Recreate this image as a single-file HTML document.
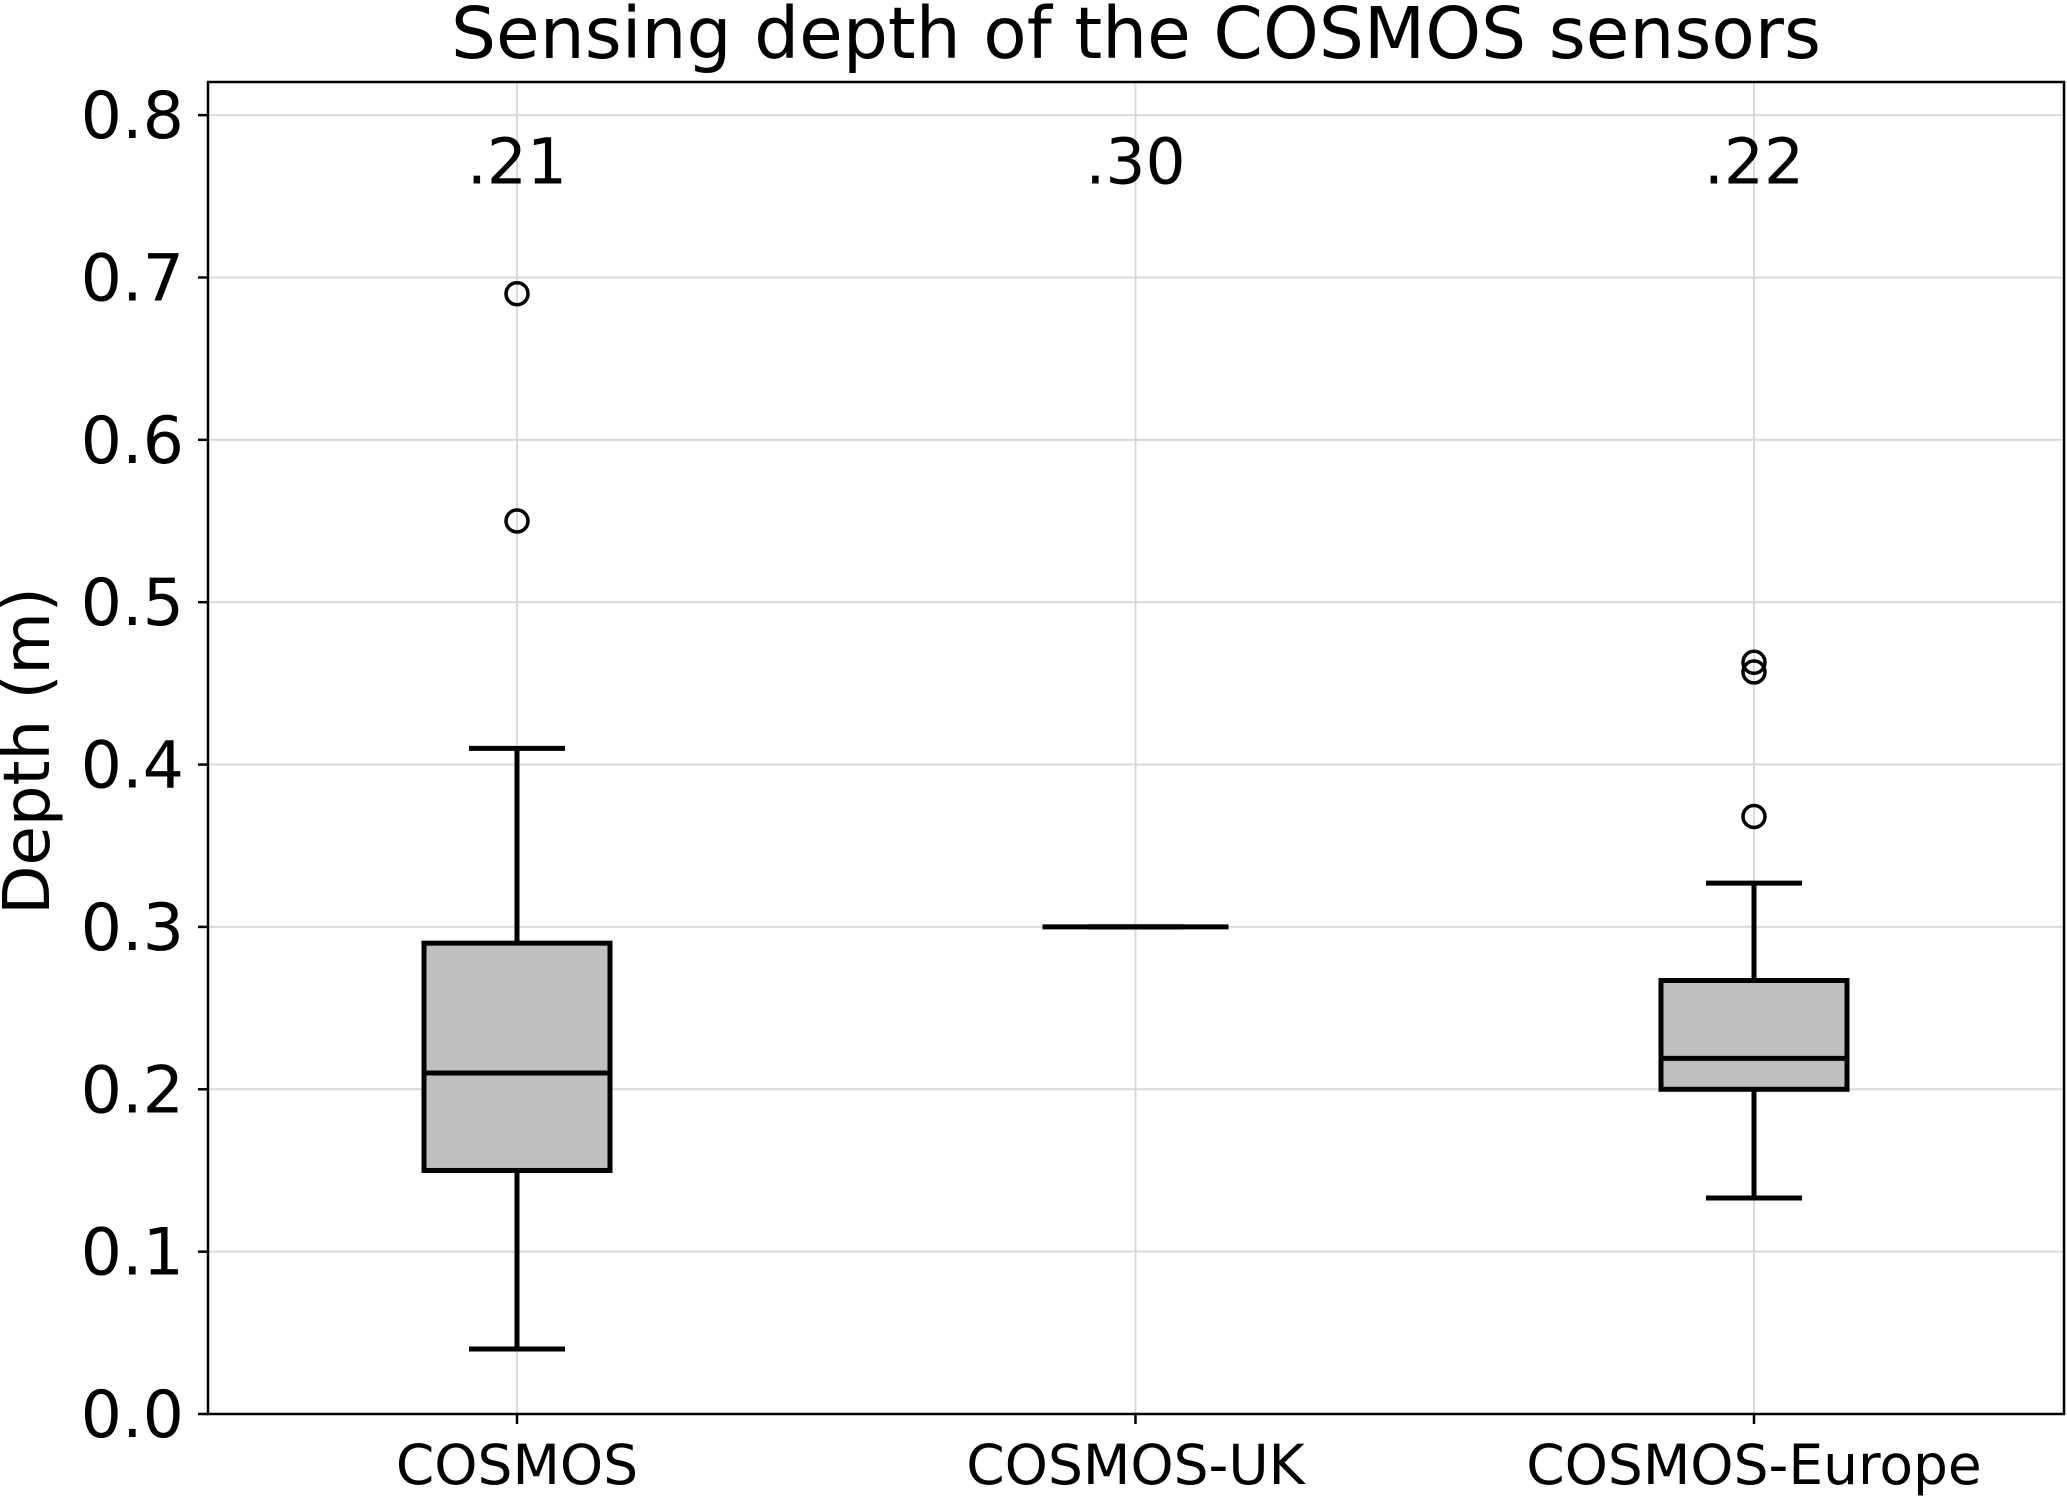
<!DOCTYPE html>
<html><head><meta charset="utf-8"><style>
body{margin:0;background:#fff}
svg text{font-family:"DejaVu Sans","Liberation Sans",sans-serif;fill:#000}
</style></head><body>
<svg id="chart" width="2067" height="1500" xmlns="http://www.w3.org/2000/svg">
<rect width="2067" height="1500" fill="#fff"/>
<text x="1136" y="58" font-size="71" text-anchor="middle">Sensing depth of the COSMOS sensors</text>
<text transform="translate(49,751) rotate(-90)" font-size="64" text-anchor="middle">Depth (m)</text>
<g id="grid"></g><g id="marks"></g><g id="axes"></g>
</svg>
<script>
const categories=["COSMOS","COSMOS-UK","COSMOS-Europe"];
const whiskerLow=[0.04,0.30,0.133];
const q1=[0.15,0.30,0.20];
const medians=[0.21,0.30,0.219];
const q3=[0.29,0.30,0.267];
const whiskerHigh=[0.41,0.30,0.327];
const outliers=[[0.55,0.69],[],[0.368,0.457,0.463]];
const annotations=[".21",".30",".22"];
const yTicks=[0,0.1,0.2,0.3,0.4,0.5,0.6,0.7,0.8];
const tickLabels=["0.0","0.1","0.2","0.3","0.4","0.5","0.6","0.7","0.8"];

const L=208,R=2064,T=82,B=1414,YMAX=0.8204;
const xs=[517,1135,1754];
function x(i){return xs[0]+i*(xs[2]-xs[0])/2;}
function y(v){return B-(v/YMAX)*(B-T);}
const NS="http://www.w3.org/2000/svg";
function mk(tag,a,parent){const e=document.createElementNS(NS,tag);for(const k in a)e.setAttribute(k,a[k]);document.getElementById(parent).appendChild(e);return e;}
yTicks.forEach((v,i)=>{
 const g=mk("line",{x1:L,x2:R,y1:y(v),y2:y(v),stroke:"#d9d9d9","stroke-width":2},"grid");
 
 
 const t=mk("line",{x1:L-10,x2:L,y1:y(v),y2:y(v),stroke:"#000","stroke-width":2.5},"axes");
 
 
 const l=mk("text",{x:L-24,y:y(v)+23,"font-size":65,"text-anchor":"end"},"axes");
 l.textContent=tickLabels[i];
 
 
});
categories.forEach((c,i)=>{
 const cx=x(i);
 const g=mk("line",{x1:cx,x2:cx,y1:T,y2:B,stroke:"#d9d9d9","stroke-width":2},"grid");
 
 
 const t=mk("line",{x1:cx,x2:cx,y1:B,y2:B+10,stroke:"#000","stroke-width":2.5},"axes");
 
 
 const l=mk("text",{x:cx,y:1484,"font-size":55,"text-anchor":"middle"},"axes");
 l.textContent=c;
 
 
 const a=mk("text",{x:cx,y:y(0.772)+23,"font-size":63,"text-anchor":"middle"},"marks");
 a.textContent=annotations[i];
 
 
 const hw=93,cw=48,sw=5;
 const w1=mk("line",{x1:cx,x2:cx,y1:y(whiskerLow[i]),y2:y(q1[i]),stroke:"#000","stroke-width":sw},"marks");
 
 
 const w2=mk("line",{x1:cx,x2:cx,y1:y(q3[i]),y2:y(whiskerHigh[i]),stroke:"#000","stroke-width":sw},"marks");
 
 
 const c1=mk("line",{x1:cx-cw,x2:cx+cw,y1:y(whiskerLow[i]),y2:y(whiskerLow[i]),stroke:"#000","stroke-width":sw},"marks");
 
 
 const c2=mk("line",{x1:cx-cw,x2:cx+cw,y1:y(whiskerHigh[i]),y2:y(whiskerHigh[i]),stroke:"#000","stroke-width":sw},"marks");
 
 
 const bx=mk("rect",{x:cx-hw,y:y(q3[i]),width:2*hw,height:Math.max(0,y(q1[i])-y(q3[i])),fill:"#bfbfbf",stroke:"#000","stroke-width":sw},"marks");
 
 
 const m=mk("line",{x1:cx-hw,x2:cx+hw,y1:y(medians[i]),y2:y(medians[i]),stroke:"#000","stroke-width":sw},"marks");
 
 
 outliers[i].forEach(v=>{
  const o=mk("circle",{cx:cx,cy:y(v),r:11,fill:"none",stroke:"#000","stroke-width":3.5},"marks");
  
  
 });
});
const fr=mk("rect",{x:L,y:T,width:R-L,height:B-T,fill:"none",stroke:"#000","stroke-width":2.5},"axes");


</script>
</body></html>
